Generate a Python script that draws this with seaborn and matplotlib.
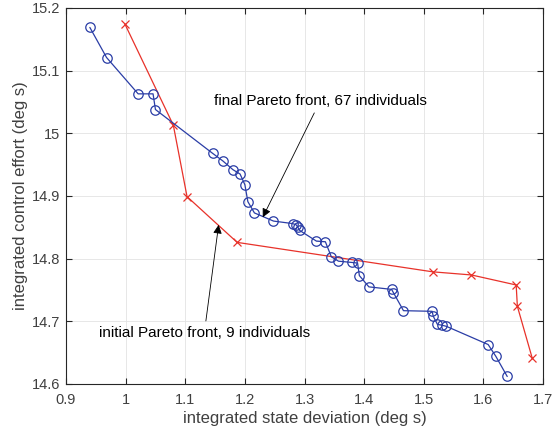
import matplotlib
matplotlib.use("Agg")
import matplotlib.pyplot as plt
import seaborn as sns

# Final Pareto front (integrated state deviation, integrated control effort)
final_dev = [0.940, 0.968, 0.968, 1.021, 1.046, 1.050, 1.146, 1.163, 1.163, 1.180,
             1.192, 1.192, 1.200, 1.205, 1.205, 1.216, 1.248, 1.280, 1.286, 1.289,
             1.292, 1.320, 1.320, 1.335, 1.335, 1.345, 1.357, 1.379, 1.389, 1.392,
             1.408, 1.446, 1.449, 1.466, 1.514, 1.516, 1.523, 1.530, 1.538, 1.608,
             1.621, 1.640]
final_eff = [15.169, 15.121, 15.121, 15.063, 15.063, 15.038, 14.968, 14.956, 14.956, 14.942,
             14.935, 14.935, 14.918, 14.891, 14.891, 14.873, 14.860, 14.856, 14.854, 14.850,
             14.845, 14.828, 14.828, 14.827, 14.827, 14.803, 14.796, 14.794, 14.793, 14.773,
             14.755, 14.751, 14.746, 14.717, 14.716, 14.708, 14.695, 14.694, 14.692, 14.663,
             14.644, 14.612]

# Initial Pareto front
init_dev = [0.999, 1.080, 1.103, 1.187, 1.515, 1.580, 1.655, 1.657, 1.682]
init_eff = [15.174, 15.013, 14.899, 14.826, 14.779, 14.774, 14.758, 14.724, 14.641]

x_ticks = [0.9, 1.0, 1.1, 1.2, 1.3, 1.4, 1.5, 1.6, 1.7]
x_tick_labels = ["0.9", "1", "1.1", "1.2", "1.3", "1.4", "1.5", "1.6", "1.7"]
y_ticks = [14.6, 14.7, 14.8, 14.9, 15.0, 15.1, 15.2]
y_tick_labels = ["14.6", "14.7", "14.8", "14.9", "15", "15.1", "15.2"]

sns.set_theme(style="whitegrid")
plt.rcParams["font.family"] = ["Liberation Sans", "DejaVu Sans"]

BLUE = "#2A3DA6"
RED = "#E8322A"
AX = "#262626"
TXT = "#404040"

fig = plt.figure(figsize=(5.56, 4.32), dpi=100)
ax = fig.add_axes([66 / 556, 1 - 384 / 432, 477 / 556, 376 / 432])

sns.lineplot(x=init_dev, y=init_eff, sort=False, ax=ax, color=RED, lw=0.9,
             marker="x", markersize=5.5, markeredgewidth=0.9, markeredgecolor=RED)
sns.lineplot(x=final_dev, y=final_eff, sort=False, ax=ax, color=BLUE, lw=0.9,
             marker="o", markersize=6.8, markerfacecolor="none",
             markeredgewidth=0.9, markeredgecolor=BLUE)

ax.set_xlim(0.9, 1.7)
ax.set_ylim(14.6, 15.2)
ax.set_xticks(x_ticks)
ax.set_xticklabels(x_tick_labels)
ax.set_yticks(y_ticks)
ax.set_yticklabels(y_tick_labels)

ax.grid(True, color="#E3E3E3", lw=0.6)
ax.set_facecolor("white")
for s in ax.spines.values():
    s.set_visible(True)
    s.set_color(AX)
    s.set_linewidth(0.8)

ax.tick_params(axis="both", which="both", direction="in", length=4, width=0.8,
               color=AX, labelcolor=TXT, labelsize=10.5, top=True, right=True,
               bottom=True, left=True)
ax.tick_params(axis="x", pad=6.5)
ax.tick_params(axis="y", pad=4)

ax.set_xlabel("integrated state deviation (deg s)", fontsize=12, color=TXT, labelpad=3)
ax.set_ylabel("integrated control effort (deg s)", fontsize=12, color=TXT, labelpad=3)

arrow = dict(arrowstyle="-|>", color="black", lw=0.6, mutation_scale=13,
             shrinkA=1, shrinkB=0)
ax.annotate("final Pareto front, 67 individuals", xy=(1.230, 14.866),
            xytext=(1.326, 15.051), ha="center", va="center", fontsize=11,
            color="black", arrowprops=arrow)
ax.annotate("initial Pareto front, 9 individuals", xy=(1.156, 14.854),
            xytext=(1.132, 14.682), ha="center", va="center", fontsize=11,
            color="black", arrowprops=arrow)

fig.savefig("out.png", dpi=100, facecolor="white")
